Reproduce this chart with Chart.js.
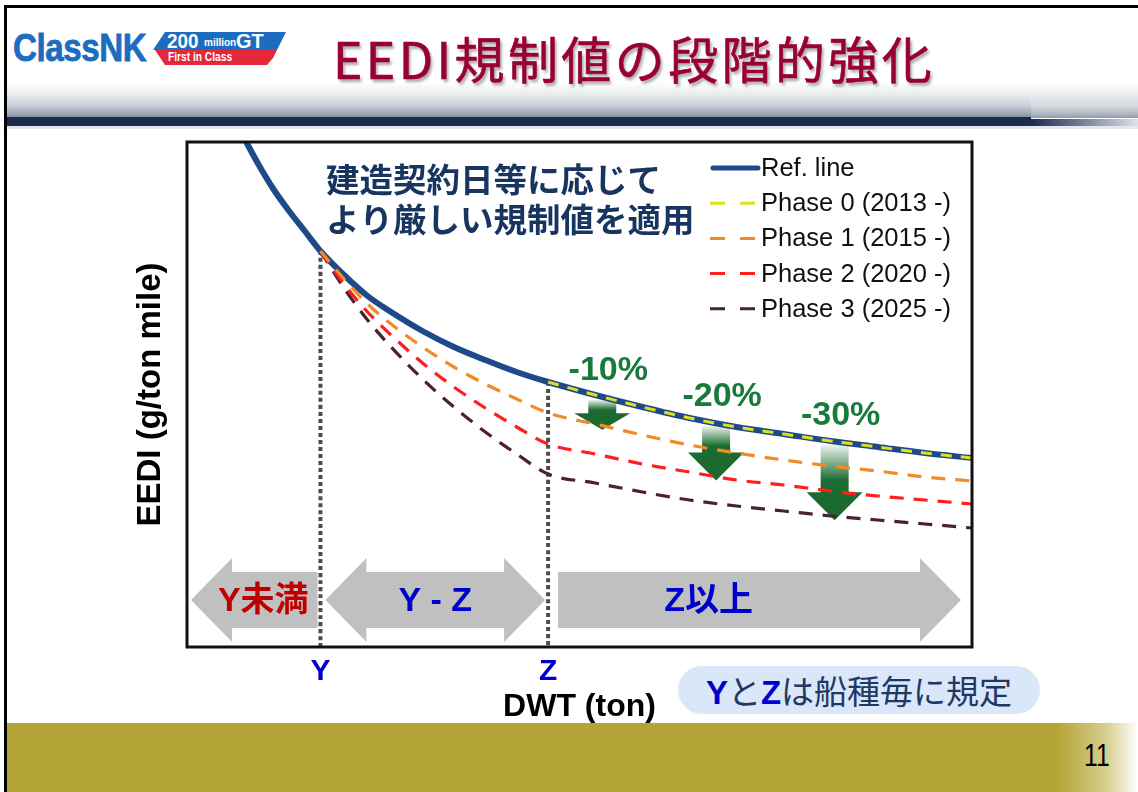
<!DOCTYPE html>
<html lang="ja">
<head>
<meta charset="utf-8">
<title>EEDI規制値の段階的強化</title>
<script src="https://cdn.jsdelivr.net/npm/chart.js@4.4.1/dist/chart.umd.min.js"></script>
<style>
  html, body { margin: 0; padding: 0; background: #fff; }
  #slide { position: relative; width: 1138px; height: 792px; overflow: hidden; background: #fff;
           font-family: "Liberation Sans", Arial, "Noto Sans CJK JP", sans-serif; }
  .abs { position: absolute; }
  .topline { left: 4px; top: 5px; width: 1134px; height: 3px; background: #000; }
  .leftline { left: 4px; top: 5px; width: 3px; height: 787px; background: #000; }
  .hdr { left: 7px; top: 8px; width: 1131px; height: 110px;
         background: linear-gradient(to bottom, #fff 0px, #fff 74px, #eef0f3 84px, #cdd2da 97px, #9ca5b4 106px, #6a758d 112px, #36435f 117px); }
  .hdr-r { left: 1031px; top: 8px; width: 107px; height: 111px;
           background: linear-gradient(to bottom, rgba(255,255,255,0) 0px, rgba(255,255,255,0) 80px, rgba(255,255,255,0.25) 100px, rgba(255,255,255,0.15) 111px); }
  .hdrbar { left: 7px; top: 117px; width: 1024px; height: 9px; background: #1c2a4c; }
  .hdrbar-r { left: 1031px; top: 119px; width: 107px; height: 8px;
              background: linear-gradient(to right, #1c2a4c, #6f7a93 45%, #dfe2ea); }
  .hdrline { left: 7px; top: 126px; width: 1131px; height: 3px; background: #e3e8ee; }
  .cnk { left: 13px; top: 28px; font: bold 39px/39px "Liberation Sans", Arial, sans-serif; color: #1c6dbf;
         -webkit-text-stroke: 0.8px #1c6dbf;
         transform: scaleX(0.85); transform-origin: left top; letter-spacing: -0.5px; }
  .badge-top { left: 153px; top: 32px; width: 133px; height: 18px; background: #1c6dbf;
               clip-path: polygon(12px 0, 133px 0, 124px 18px, 0 18px); }
  .badge-bot { left: 155px; top: 50px; width: 122px; height: 15px; background: #e4283a;
               clip-path: polygon(0 0, 122px 0, 118px 8px, 112px 15px, 10px 15px); }
  .b200 { left: 167px; top: 30px; font: bold 21px/21px "Liberation Sans", Arial, sans-serif; color: #fff; transform: scaleX(0.9); transform-origin: left top; }
  .bmil { left: 204px; top: 38px; font: bold 10px/10px "Liberation Sans", Arial, sans-serif; color: #fff; }
  .bgt  { left: 236px; top: 30px; font: bold 21px/21px "Liberation Sans", Arial, sans-serif; color: #fff; transform: scaleX(0.95); transform-origin: left top; }
  .bfirst { left: 168px; top: 51px; font: bold 12px/13px "Liberation Sans", Arial, sans-serif; color: #fff; transform: scaleX(0.85); transform-origin: left top; }
  .title { left: 333px; top: 32px; font: 400 50px/50px "Noto Sans CJK JP", sans-serif; color: #990033;
           letter-spacing: 3.4px; white-space: nowrap; text-shadow: 2px 3px 3px rgba(0,0,0,0.35);
           -webkit-text-stroke: 0.6px #990033; }
  .footer { left: 7px; top: 723px; width: 1131px; height: 69px;
            background: linear-gradient(to right, #b4a437 0px, #b4a437 1050px, #d9cf8f 1100px, #ffffff 1131px); }
  .pageno { left: 1084px; top: 740px; font: 31px/31px "Liberation Sans", Arial, sans-serif; color: #000;
            transform: scaleX(0.8); transform-origin: left top; }
  .note { left: 678px; top: 666px; width: 362px; height: 48px; border-radius: 24px; background: #dae7f8;
          text-align: center; font: 400 33px/48px "Noto Sans CJK JP", sans-serif; color: #1f3864; white-space: nowrap; }
  .note b { font-family: "Liberation Sans", Arial, sans-serif; font-weight: bold; color: #0000d0; }
  canvas { position: absolute; left: 0; top: 0; }
</style>
</head>
<body>
<div id="slide">
  <div class="abs hdr"></div>
  <div class="abs hdr-r"></div>
  <div class="abs hdrbar"></div>
  <div class="abs hdrbar-r"></div>
  <div class="abs hdrline"></div>
  <div class="abs topline"></div>
  <div class="abs cnk">ClassNK</div>
  <div class="abs badge-top"></div>
  <div class="abs badge-bot"></div>
  <div class="abs b200">200</div>
  <div class="abs bmil">million</div>
  <div class="abs bgt">GT</div>
  <div class="abs bfirst">First in Class</div>
  <div class="abs title">EEDI規制値の段階的強化</div>
  <div class="abs footer"></div>
  <div class="abs leftline"></div>
  <div class="abs pageno">11</div>
  <div class="abs note"><b>Y</b>と<b>Z</b>は船種毎に規定</div>
  <canvas id="chart" width="1138" height="792"></canvas>
</div>

<script>
// Ship size (DWT, relative units) at which the curves are sampled
const dwt = [7, 9, 11, 13, 15, 17, 20, 23, 26, 30, 34, 38, 42, 46, 52, 58, 64, 70, 76, 82, 88, 94, 100];

// EEDI reference line (g/ton mile, relative units)
const refLine = [55.6, 52.7, 50.1, 47.9, 45.9, 43.9, 41.5, 39.4, 37.8, 35.9, 34.3, 33.0, 31.8, 30.8, 29.5, 28.3, 27.2, 26.3, 25.6, 24.9, 24.3, 23.7, 23.2];

// Required EEDI per phase (null where the phase curve is not drawn)
const phase0 = [null, null, null, null, null, null, null, null, null, null, null, null, null, 30.8, 29.5, 28.3, 27.2, 26.3, 25.6, 24.9, 24.3, 23.7, 23.2];
const phase1 = [null, null, null, null, null, 43.9, 41.1, 38.6, 36.6, 34.3, 32.3, 30.6, 29.1, 27.7, 26.6, 25.5, 24.5, 23.7, 23.0, 22.4, 21.9, 21.3, 20.9];
const phase2 = [null, null, null, null, null, 43.9, 40.6, 37.8, 35.5, 32.7, 30.3, 28.2, 26.3, 24.6, 23.6, 22.6, 21.8, 21.0, 20.5, 19.9, 19.4, 19.0, 18.6];
const phase3 = [null, null, null, null, null, 43.9, 40.2, 37.0, 34.3, 31.1, 28.3, 25.8, 23.6, 21.6, 20.7, 19.8, 19.0, 18.4, 17.9, 17.4, 17.0, 16.6, 16.2];

const seriesNames = ['Ref. line', 'Phase 0 (2013 -)', 'Phase 1 (2015 -)', 'Phase 2 (2020 -)', 'Phase 3 (2025 -)'];

// Size thresholds Y and Z, and the size bands they define
const boundaryDwt = [17, 46];
const boundaryLabels = ['Y', 'Z'];
const bandLabels = ['Y未満', 'Y - Z', 'Z以上'];

// Reduction rates shown by the green arrows (%), and where along DWT they sit
const reductionPct = [10, 20, 30];
const markerDwt = [52.9, 67.4, 82.5];

const noteLines = ['建造契約日等に応じて', 'より厳しい規制値を適用'];

const Y_MIN = 4.3, Y_MAX = 54.8;
const LATIN = '"Liberation Sans", Arial, sans-serif';
const CJK = '"Liberation Sans", "Noto Sans CJK JP", sans-serif';

const toPoints = arr => dwt.map((x, i) => ({ x, y: arr[i] })).filter(p => p.y !== null);

// value of a sampled series at an arbitrary DWT (piecewise linear between samples)
function seriesAt(arr, x) {
  for (let i = 0; i < dwt.length - 1; i++) {
    if (x >= dwt[i] && x <= dwt[i + 1] && arr[i] !== null && arr[i + 1] !== null) {
      const t = (x - dwt[i]) / (dwt[i + 1] - dwt[i]);
      return arr[i] + t * (arr[i + 1] - arr[i]);
    }
  }
  return null;
}

const NAVY = '#1f4a89', YELLOW = '#dede22', ORANGE = '#f28a26', RED = '#ff1d1d', BROWN = '#4a2228';

const lineSeries = [
  { label: seriesNames[0], data: toPoints(refLine), borderColor: NAVY,   borderWidth: 6,   borderDash: [],       order: 5 },
  { label: seriesNames[1], data: toPoints(phase0),  borderColor: YELLOW, borderWidth: 3,   borderDash: [11, 9],  order: 0 },
  { label: seriesNames[2], data: toPoints(phase1),  borderColor: ORANGE, borderWidth: 3.2, borderDash: [14, 10], order: 2 },
  { label: seriesNames[3], data: toPoints(phase2),  borderColor: RED,    borderWidth: 3.2, borderDash: [14, 10], order: 3 },
  { label: seriesNames[4], data: toPoints(phase3),  borderColor: BROWN,  borderWidth: 3.2, borderDash: [14, 10], order: 4 }
];

// dotted guides dropping from the reference line at Y and Z
const guideSeries = boundaryDwt.map(b => ({
  label: '', isGuide: true,
  data: [{ x: b, y: seriesAt(refLine, b) }, { x: b, y: Y_MIN }],
  borderColor: '#4d4d4d', borderWidth: 4, borderDash: [4, 3], borderCapStyle: 'butt', order: 6
}));

function drawBlockArrow(ctx, x0, x1, cy, headL, headR) {
  const bodyH = 28, headH = 42, hl = 41;
  ctx.beginPath();
  if (headL) {
    ctx.moveTo(x0, cy);
    ctx.lineTo(x0 + hl, cy - headH);
    ctx.lineTo(x0 + hl, cy - bodyH);
  } else {
    ctx.moveTo(x0, cy - bodyH);
  }
  if (headR) {
    ctx.lineTo(x1 - hl, cy - bodyH);
    ctx.lineTo(x1 - hl, cy - headH);
    ctx.lineTo(x1, cy);
    ctx.lineTo(x1 - hl, cy + headH);
    ctx.lineTo(x1 - hl, cy + bodyH);
  } else {
    ctx.lineTo(x1, cy - bodyH);
    ctx.lineTo(x1, cy + bodyH);
  }
  if (headL) {
    ctx.lineTo(x0 + hl, cy + bodyH);
    ctx.lineTo(x0 + hl, cy + headH);
  } else {
    ctx.lineTo(x0, cy + bodyH);
  }
  ctx.closePath();
  ctx.fill();
}

const decor = {
  id: 'decor',
  beforeDatasetsDraw(chart) {
    const { ctx, chartArea: a, scales: { x, y } } = chart;
    const px = boundaryDwt.map(b => x.getPixelForValue(b));
    ctx.save();

    // size-band arrows along the bottom of the plot
    const cy = a.bottom - 47;
    const bands = [
      { x0: a.left + 4, x1: px[0] - 3, l: true, r: false, dx: 9, color: '#c00000' },
      { x0: px[0] + 5, x1: px[1] - 3, l: true, r: true, dx: 0, color: '#0000cc' },
      { x0: px[1] + 10, x1: a.right - 11, l: false, r: true, dx: -51, color: '#0000cc' }
    ];
    ctx.fillStyle = '#c0c0c0';
    bands.forEach(b => drawBlockArrow(ctx, b.x0, b.x1, cy, b.l, b.r));
    ctx.font = 'bold 34px ' + CJK;
    ctx.textAlign = 'center';
    ctx.textBaseline = 'middle';
    bands.forEach((b, i) => {
      ctx.fillStyle = b.color;
      ctx.fillText(bandLabels[i], (b.x0 + b.x1) / 2 + b.dx, cy + 2);
    });

    // green reduction arrows: from the reference line down to each phase curve
    const phases = [phase1, phase2, phase3];
    markerDwt.forEach((m, i) => {
      const cx = x.getPixelForValue(m);
      const top = y.getPixelForValue(seriesAt(refLine, m)) + 3;
      const tip = y.getPixelForValue(seriesAt(phases[i], m)) + 4;
      const headH = Math.min(28, (tip - top) * 0.55);
      const sw = 14, hw = 28;
      const g = ctx.createLinearGradient(0, top, 0, tip - headH);
      g.addColorStop(0, '#eef5ef');
      g.addColorStop(0.75, '#1d6d33');
      g.addColorStop(1, '#1b6a30');
      ctx.fillStyle = g;
      ctx.fillRect(cx - sw, top, sw * 2, tip - headH - top + 1);
      ctx.fillStyle = '#1b6a30';
      ctx.beginPath();
      ctx.moveTo(cx - hw, tip - headH);
      ctx.lineTo(cx + hw, tip - headH);
      ctx.lineTo(cx, tip);
      ctx.closePath();
      ctx.fill();
    });
    ctx.restore();
  },
  afterDatasetsDraw(chart) {
    const { ctx, chartArea: a, scales: { x, y } } = chart;
    ctx.save();

    // plot frame
    ctx.strokeStyle = '#111';
    ctx.lineWidth = 3;
    ctx.strokeRect(a.left, a.top, a.right - a.left, a.bottom - a.top);

    // reduction labels
    ctx.font = 'bold 34px ' + LATIN;
    ctx.fillStyle = '#1a7a3c';
    ctx.textAlign = 'center';
    ctx.textBaseline = 'alphabetic';
    markerDwt.forEach((m, i) => {
      const cx = x.getPixelForValue(m);
      const top = y.getPixelForValue(seriesAt(refLine, m)) + 3;
      ctx.fillText('-' + reductionPct[i] + '%', cx + 6, top - 20);
    });

    // explanatory note inside the plot
    ctx.font = 'bold 33.5px "Noto Sans CJK JP", sans-serif';
    ctx.fillStyle = '#17355f';
    ctx.textAlign = 'left';
    ctx.textBaseline = 'middle';
    noteLines.forEach((t, i) => ctx.fillText(t, a.left + 139, a.top + 37 + i * 40));

    // legend
    const items = chart.data.datasets.filter(d => !d.isGuide);
    const lx = a.right - 262, ly = a.top + 26;
    ctx.font = '25.5px ' + LATIN;
    ctx.fillStyle = '#111';
    items.forEach((d, i) => {
      const yy = ly + i * 35.2;
      ctx.strokeStyle = d.borderColor;
      if (d.borderDash.length === 0) {
        ctx.lineWidth = 5;
        ctx.lineCap = 'round';
        ctx.setLineDash([]);
        ctx.beginPath();
        ctx.moveTo(lx + 3, yy);
        ctx.lineTo(lx + 48, yy);
        ctx.stroke();
      } else {
        ctx.lineWidth = 3;
        ctx.lineCap = 'butt';
        ctx.setLineDash([]);
        ctx.beginPath();
        ctx.moveTo(lx, yy); ctx.lineTo(lx + 15, yy);
        ctx.moveTo(lx + 30, yy); ctx.lineTo(lx + 45, yy);
        ctx.stroke();
      }
      ctx.fillText(d.label, lx + 51, yy + 1);
    });
    ctx.restore();
  }
};

new Chart(document.getElementById('chart'), {
  type: 'line',
  data: { datasets: [...lineSeries, ...guideSeries] },
  options: {
    responsive: false,
    animation: false,
    devicePixelRatio: 1,
    layout: { padding: { left: 120, right: 166, top: 142, bottom: 60 } },
    elements: {
      point: { radius: 0, hoverRadius: 0 },
      line: { fill: false, cubicInterpolationMode: 'monotone', borderCapStyle: 'butt' }
    },
    plugins: { legend: { display: false }, tooltip: { enabled: false } },
    scales: {
      x: {
        type: 'linear', min: 0, max: 100,
        grid: { display: false, drawTicks: false },
        border: { display: false },
        afterBuildTicks: s => { s.ticks = boundaryDwt.map(v => ({ value: v })); },
        afterFit: s => { s.height = 85; },
        ticks: {
          autoSkip: false, maxRotation: 0, padding: 7, color: '#0000cc',
          font: { family: LATIN, size: 30, weight: 'bold' },
          callback: v => boundaryLabels[boundaryDwt.indexOf(v)]
        },
        title: {
          display: true, text: 'DWT (ton)', color: '#000',
          font: { family: LATIN, size: 32, weight: 'bold' },
          padding: { top: 0, bottom: 6 }
        }
      },
      y: {
        type: 'linear', min: Y_MIN, max: Y_MAX,
        grid: { display: false, drawTicks: false },
        border: { display: false },
        ticks: { display: false },
        afterFit: s => { s.width = 67; },
        title: {
          display: true, text: 'EEDI (g/ton mile)', color: '#000',
          font: { family: LATIN, size: 33, weight: 'bold' },
          padding: { top: 11, bottom: 0 }
        }
      }
    }
  },
  plugins: [decor]
});
</script>
</body>
</html>
